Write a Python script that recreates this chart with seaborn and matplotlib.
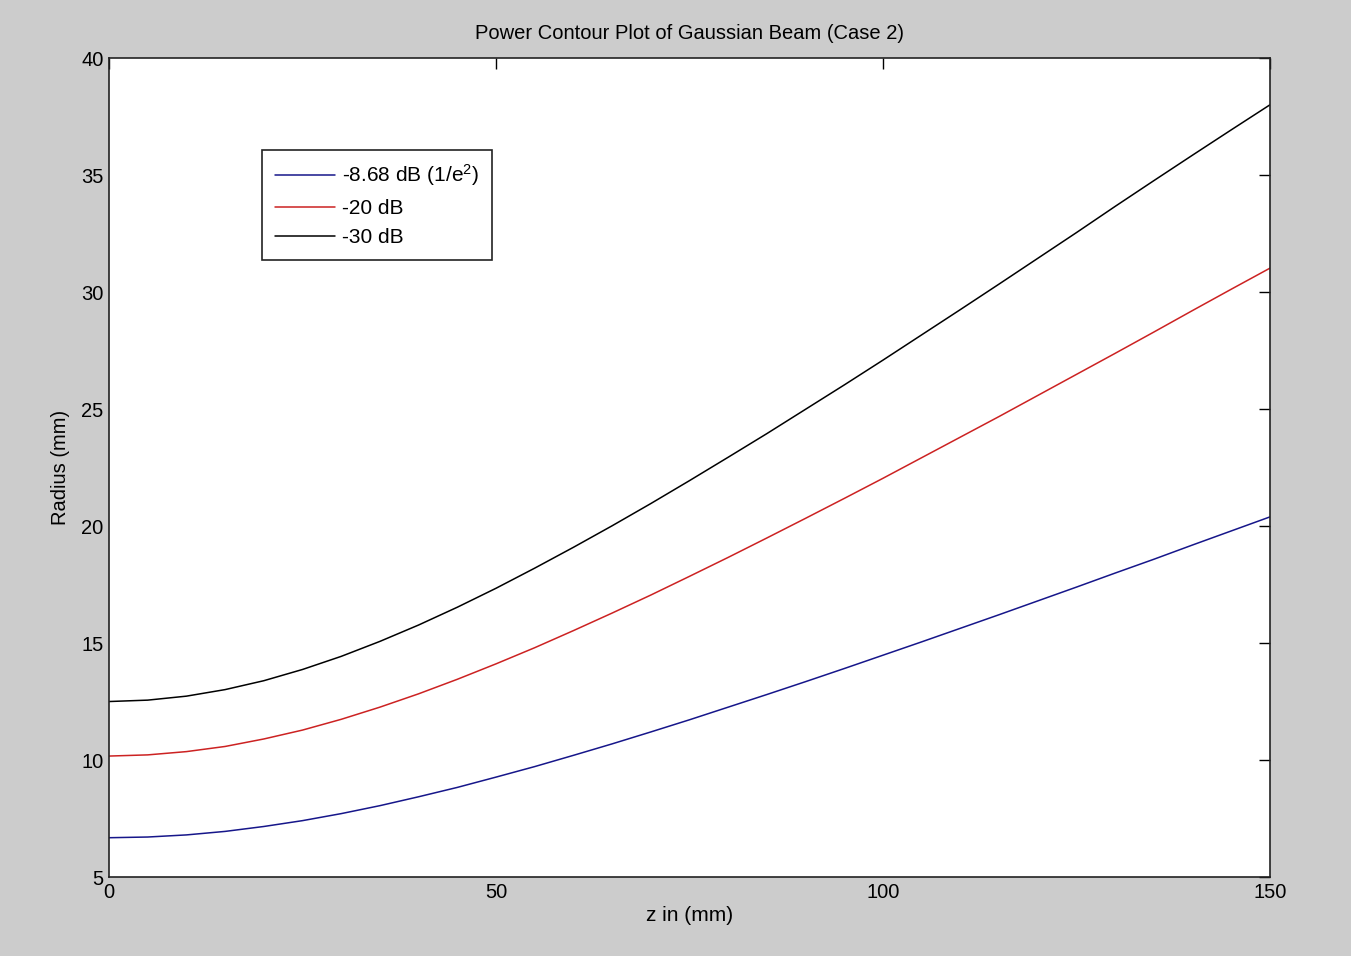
import pandas as pd
import matplotlib.pyplot as plt
import seaborn as sns

z_mm = [0, 5, 10, 15, 20, 25, 30, 35, 40, 45, 50, 55, 60, 65, 70, 75,
        80, 85, 90, 95, 100, 105, 110, 115, 120, 125, 130, 135, 140, 145, 150]
r_868 = [6.68, 6.71, 6.80, 6.95, 7.16, 7.41, 7.71, 8.05, 8.43, 8.83, 9.27, 9.72, 10.20, 10.69, 11.20, 11.72,
         12.26, 12.80, 13.35, 13.91, 14.48, 15.05, 15.63, 16.21, 16.80, 17.39, 17.99, 18.58, 19.19, 19.79, 20.39]
r_20 = [10.17, 10.22, 10.36, 10.58, 10.90, 11.28, 11.74, 12.26, 12.83, 13.45, 14.11, 14.80, 15.53, 16.28, 17.05, 17.85,
        18.66, 19.49, 20.33, 21.18, 22.04, 22.92, 23.80, 24.68, 25.58, 26.48, 27.38, 28.29, 29.21, 30.12, 31.02]
r_30 = [12.50, 12.56, 12.73, 13.01, 13.39, 13.87, 14.43, 15.07, 15.77, 16.53, 17.34, 18.20, 19.09, 20.01, 20.96, 21.94,
        22.94, 23.95, 24.99, 26.03, 27.09, 28.17, 29.25, 30.34, 31.44, 32.54, 33.66, 34.76, 35.85, 36.93, 38.00]

labels = [r"-8.68 dB (1/e$^{2}$)", "-20 dB", "-30 dB"]
colors = ["#16168a", "#cc2222", "#000000"]

df = pd.concat([
    pd.DataFrame({"z": z_mm, "r": r_868, "level": labels[0]}),
    pd.DataFrame({"z": z_mm, "r": r_20, "level": labels[1]}),
    pd.DataFrame({"z": z_mm, "r": r_30, "level": labels[2]}),
])

sns.set_theme(style="white")
plt.rcParams["font.family"] = ["Liberation Sans", "DejaVu Sans"]
plt.rcParams["mathtext.default"] = "regular"
plt.rcParams["text.color"] = "black"
plt.rcParams["axes.labelcolor"] = "black"

fig = plt.figure(figsize=(13.51, 9.56), dpi=100, facecolor="#cccccc")
ax = fig.add_axes([0.0807, 0.0826, 0.8593, 0.8567])
ax.set_facecolor("white")

sns.lineplot(data=df, x="z", y="r", hue="level", palette=dict(zip(labels, colors)),
             linewidth=1.1, ax=ax, sort=False)

ax.set_xlim(0, 150)
ax.set_ylim(5, 40)
ax.set_xticks([0, 50, 100, 150])
ax.set_yticks([5, 10, 15, 20, 25, 30, 35, 40])
ax.tick_params(direction="in", length=8, width=1, top=True, right=True,
               labelsize=14.5, colors="black", pad=4)
for s in ax.spines.values():
    s.set_color("#222222")
    s.set_linewidth(1.2)

ax.set_title("Power Contour Plot of Gaussian Beam (Case 2)", fontsize=14.5, pad=14)
ax.set_xlabel("z in (mm)", fontsize=15, labelpad=3)
ax.set_ylabel("Radius (mm)", fontsize=14.5, labelpad=8)

leg = ax.legend(loc="upper left", bbox_to_anchor=(0.1318, 0.8877), fontsize=15,
                frameon=True, fancybox=False, edgecolor="#222222", framealpha=1,
                handlelength=2.9, borderpad=0.6, labelspacing=0.5, handletextpad=0.35,
                borderaxespad=0)
leg.get_frame().set_linewidth(1.2)
leg.set_title(None)

fig.savefig("out.png", dpi=100, facecolor=fig.get_facecolor())
